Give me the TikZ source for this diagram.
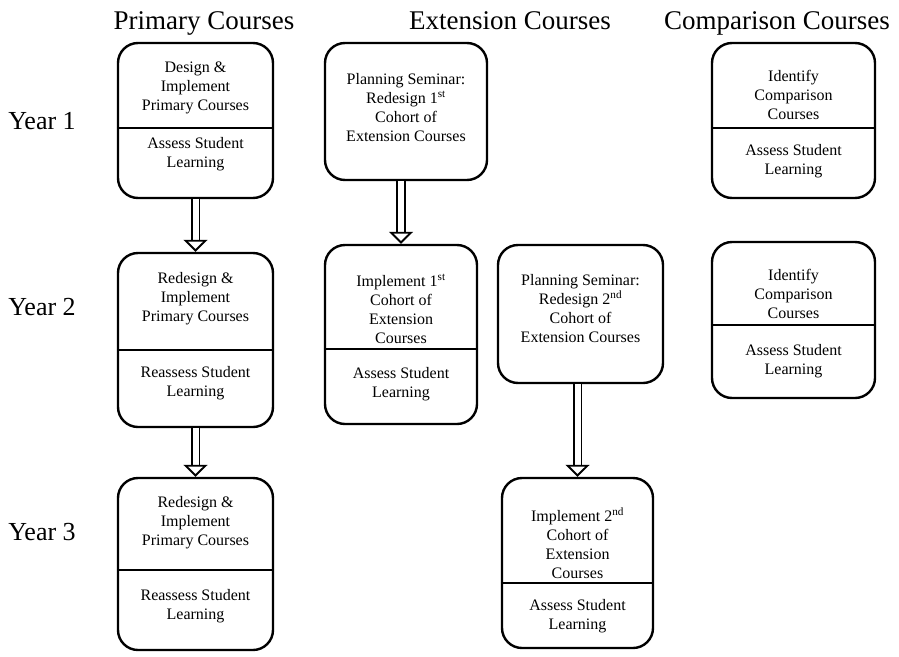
\documentclass[tikz,border=0pt]{standalone}
\usepackage{fontspec}
\setmainfont{Liberation Serif}
\usetikzlibrary{arrows.meta}

\begin{document}
\begin{tikzpicture}[x=1pt,y=-1pt,>=latex]
		\tikzstyle{BOX} = [draw, line width=2.4pt, rounded corners=20pt, inner sep=0pt]
		\tikzstyle{lbl} = [align=center, inner sep=0pt, font=\fontsize{16}{19}\selectfont]
		\tikzstyle{head} = [anchor=base, inner sep=0pt, font=\fontsize{27}{32}\selectfont]
		\tikzstyle{year} = [anchor=base, inner sep=0pt, font=\fontsize{26}{31}\selectfont]
		\tikzstyle{divider} = [line width=2.4pt]
		\tikzstyle{flow} = [double, double distance=6pt, line width=1.9pt, -{Triangle[open, length=12pt, width=24pt, line width=1.9pt]}]

		\useasboundingbox (0,0) rectangle (899,656);

		% column and row titles
		\node[head] (hPrim) at (204,29) {Primary Courses};
		\node[head] (hExt) at (510,29) {Extension Courses};
		\node[head] (hComp) at (777,29) {Comparison Courses};
		\node[year] (yOne) at (42,129) {Year 1};
		\node[year] (yTwo) at (42,315) {Year 2};
		\node[year] (yThree) at (42,540) {Year 3};

		% primary courses
		\node[BOX, minimum width=155pt, minimum height=155pt] (pOne) at (195.5,120.5) {};
		\draw[divider] (pOne.west |- 0,128) -- (pOne.east |- 0,128);
		\node[lbl] (pOneA) at (195.5,88) {Design \&\\Implement\\Primary Courses};
		\node[lbl] (pOneB) at (195.5,154) {Assess Student\\Learning};

		\node[BOX, minimum width=155pt, minimum height=174pt] (pTwo) at (195.5,340) {};
		\draw[divider] (pTwo.west |- 0,350) -- (pTwo.east |- 0,350);
		\node[lbl] (pTwoA) at (195.5,299) {Redesign \&\\Implement\\Primary Courses};
		\node[lbl] (pTwoB) at (195.5,383) {Reassess Student\\Learning};

		\node[BOX, minimum width=155pt, minimum height=172pt] (pThree) at (195.5,564) {};
		\draw[divider] (pThree.west |- 0,570) -- (pThree.east |- 0,570);
		\node[lbl] (pThreeA) at (195.5,523) {Redesign \&\\Implement\\Primary Courses};
		\node[lbl] (pThreeB) at (195.5,606) {Reassess Student\\Learning};

		\draw[flow] (pOne.south) -- (pTwo.north);
		\draw[flow] (pTwo.south) -- (pThree.north);

		% extension courses
		\node[BOX, minimum width=162pt, minimum height=137pt] (eOne) at (406,111.5) {};
		\node[lbl] (eOneA) at (406,108) {Planning Seminar:\\Redesign 1\textsuperscript{st}\\Cohort of\\Extension Courses};

		\node[BOX, minimum width=152pt, minimum height=179pt] (eTwo) at (401,334.5) {};
		\draw[divider] (eTwo.west |- 0,349) -- (eTwo.east |- 0,349);
		\node[lbl] (eTwoA) at (401,309) {Implement 1\textsuperscript{st}\\Cohort of\\Extension\\Courses};
		\node[lbl] (eTwoB) at (401,384) {Assess Student\\Learning};

		\node[BOX, minimum width=165pt, minimum height=138pt] (eThree) at (580.5,314) {};
		\node[lbl] (eThreeA) at (580.5,309) {Planning Seminar:\\Redesign 2\textsuperscript{nd}\\Cohort of\\Extension Courses};

		\node[BOX, minimum width=151pt, minimum height=170pt] (eFour) at (577.5,563) {};
		\draw[divider] (eFour.west |- 0,583) -- (eFour.east |- 0,583);
		\node[lbl] (eFourA) at (577.5,543) {Implement 2\textsuperscript{nd}\\Cohort of\\Extension\\Courses};
		\node[lbl] (eFourB) at (577.5,616) {Assess Student\\Learning};

		\draw[flow] (eTwo.north |- eOne.south) -- (eTwo.north);
		\draw[flow] (eFour.north |- eThree.south) -- (eFour.north);

		% comparison courses
		\node[BOX, minimum width=163pt, minimum height=155pt] (cOne) at (793.5,120.5) {};
		\draw[divider] (cOne.west |- 0,128) -- (cOne.east |- 0,128);
		\node[lbl] (cOneA) at (793.5,95) {Identify\\Comparison\\Courses};
		\node[lbl] (cOneB) at (793.5,161) {Assess Student\\Learning};

		\node[BOX, minimum width=163pt, minimum height=156pt] (cTwo) at (793.5,320) {};
		\draw[divider] (cTwo.west |- 0,325) -- (cTwo.east |- 0,325);
		\node[lbl] (cTwoA) at (793.5,294) {Identify\\Comparison\\Courses};
		\node[lbl] (cTwoB) at (793.5,361) {Assess Student\\Learning};
\end{tikzpicture}
\end{document}
